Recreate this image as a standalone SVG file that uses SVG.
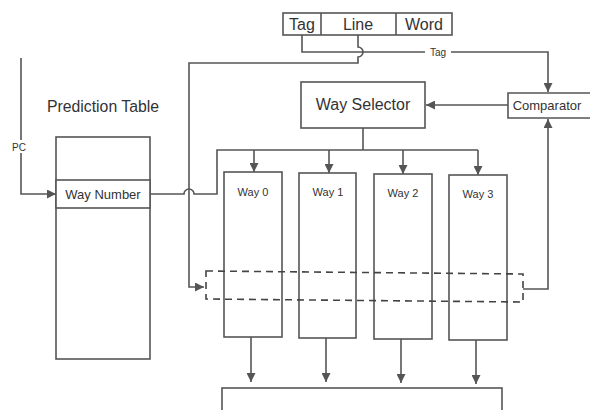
<svg xmlns="http://www.w3.org/2000/svg" width="590" height="410" viewBox="0 0 590 410">
<defs>
<marker id="ah" viewBox="0 0 10 10" refX="10" refY="5" markerWidth="9" markerHeight="9" markerUnits="userSpaceOnUse" orient="auto">
<path d="M0,0 L10,5 L0,10 z" fill="#555"/>
</marker>
<style>
.box{fill:#fff;stroke:#555;stroke-width:1.6}
.ln{fill:none;stroke:#555;stroke-width:1.6}
.dash{fill:none;stroke:#444;stroke-width:1.6;stroke-dasharray:7,5}
text{font-family:"Liberation Sans",Arial,sans-serif;fill:#333}
.t16{font-size:16px}
.t13{font-size:13px}
.t11{font-size:11px}
.t10{font-size:10px}
</style>
</defs>
<rect width="590" height="410" fill="#fff"/>

<g id="connectors">
<!-- PC -->
<path class="ln" d="M21,58 V194 H56" marker-end="url(#ah)"/>
<!-- Tag to comparator -->
<path class="ln" d="M302,35 V52 H425 M451,52 H548 V92" marker-end="url(#ah)"/>
<!-- Line to dashed box -->
<path class="ln" d="M358,35 V47 A5,5 0 0 1 358,57 V63 H189 V287 H204" marker-end="url(#ah)"/>
<!-- Way number to bus -->
<path class="ln" d="M150,194 H184 A5,5 0 0 1 194,194 H217 V150 H478"/>
<!-- way selector to bus -->
<path class="ln" d="M363,128 V150"/>
<!-- bus drops -->
<path class="ln" d="M254,150 V172" marker-end="url(#ah)"/>
<path class="ln" d="M329,150 V173" marker-end="url(#ah)"/>
<path class="ln" d="M403,150 V174" marker-end="url(#ah)"/>
<path class="ln" d="M478,150 V175" marker-end="url(#ah)"/>
<!-- comparator to way selector -->
<path class="ln" d="M508,105 H426" marker-end="url(#ah)"/>
<!-- dashed box to comparator -->
<path class="ln" d="M523,289 H548 V119" marker-end="url(#ah)"/>
<!-- way outputs -->
<path class="ln" d="M251,337 V382" marker-end="url(#ah)"/>
<path class="ln" d="M326,338 V382" marker-end="url(#ah)"/>
<path class="ln" d="M401,339 V383" marker-end="url(#ah)"/>
<path class="ln" d="M476,340 V384" marker-end="url(#ah)"/>
</g>

<g id="address">
<rect class="box" x="283" y="13" width="169" height="22"/>
<line class="ln" x1="321" y1="13" x2="321" y2="35"/>
<line class="ln" x1="396" y1="13" x2="396" y2="35"/>
<text class="t16" x="302" y="30" text-anchor="middle">Tag</text>
<text class="t16" x="358" y="30" text-anchor="middle">Line</text>
<text class="t16" x="424" y="30" text-anchor="middle">Word</text>
</g>
<text class="t10" x="438" y="56" text-anchor="middle">Tag</text>

<g id="pc-label">
<rect x="12" y="140" width="18" height="13" fill="#fff"/>
<text class="t10" x="19" y="151" text-anchor="middle">PC</text>
</g>

<g id="prediction-table">
<text class="t16" x="103" y="112" text-anchor="middle" textLength="112" lengthAdjust="spacingAndGlyphs">Prediction Table</text>
<rect class="box" x="56" y="137" width="94" height="222"/>
<rect class="box" x="56" y="180" width="94" height="28"/>
<text class="t13" x="103" y="199" text-anchor="middle">Way Number</text>
</g>

<g id="way-selector">
<rect class="box" x="301" y="82" width="124" height="46"/>
<text class="t16" x="363" y="110" text-anchor="middle">Way Selector</text>
</g>

<g id="comparator">
<path class="box" d="M590,93 H508 V118 H590"/>
<text class="t13" x="547" y="110" text-anchor="middle">Comparator</text>
</g>

<g id="way0">
<rect class="box" x="224" y="172" width="58" height="165"/>
<text class="t11" x="253" y="196" text-anchor="middle">Way 0</text>
</g>
<g id="way1">
<rect class="box" x="299" y="173" width="57" height="165"/>
<text class="t11" x="328" y="196" text-anchor="middle">Way 1</text>
</g>
<g id="way2">
<rect class="box" x="374" y="174" width="58" height="165"/>
<text class="t11" x="403" y="197" text-anchor="middle">Way 2</text>
</g>
<g id="way3">
<rect class="box" x="449" y="175" width="58" height="165"/>
<text class="t11" x="478" y="198" text-anchor="middle">Way 3</text>
</g>

<g id="dashed-row">
<path class="dash" d="M206,271 L523,274 V302 L206,299 Z"/>
</g>

<g id="output">
<rect class="box" x="222" y="388" width="280" height="40"/>
</g>
</svg>
